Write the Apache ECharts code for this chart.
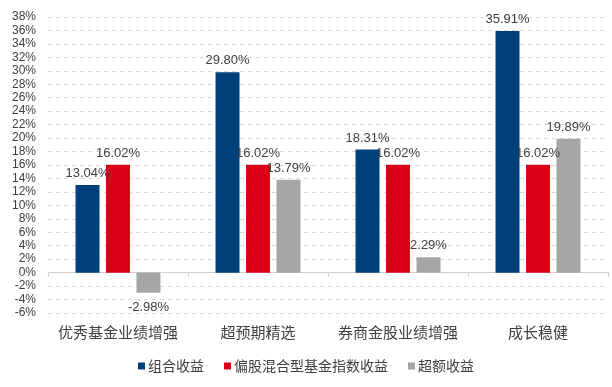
<!DOCTYPE html>
<html>
<head>
<meta charset="utf-8">
<script src="https://cdn.jsdelivr.net/npm/echarts@6/dist/echarts.min.js"></script>
<style>html,body{margin:0;padding:0;background:#fff;}#c{width:612px;height:387px;}</style>
</head>
<body>
<div id="c"></div>
<script>
var categories = ['优秀基金业绩增强', '超预期精选', '券商金股业绩增强', '成长稳健'];
var seriesNames = ['组合收益', '偏股混合型基金指数收益', '超额收益'];
var portfolio = [13.04, 29.80, 18.31, 35.91];
var benchmark = [16.02, 16.02, 16.02, 16.02];
var excess = [-2.98, 13.79, 2.29, 19.89];
var yMin = -6, yMax = 38, yStep = 2;

var colors = ['#00407a', '#d90017', '#a6a6a6'];

function mk(arr) {
  return arr.map(function (v) {
    if (v < 0) return { value: v, label: { position: 'bottom', distance: 8 } };
    return v;
  });
}
var labelStyle = {
  show: true, position: 'top', distance: 5,
  fontFamily: 'Liberation Sans, Arial, sans-serif', fontSize: 13, color: '#404040',
  formatter: function (p) { return p.value.toFixed(2) + '%'; }
};
var chart = echarts.init(document.getElementById('c'), null, { renderer: 'canvas' });
chart.setOption({
  animation: false,
  backgroundColor: '#fff',
  grid: { left: 48, right: 4, top: 17, bottom: 74 },
  legend: {
    bottom: 9, left: 'center',
    itemWidth: 7, itemHeight: 7, itemGap: 20,
    icon: 'rect',
    textStyle: { fontFamily: 'Noto Sans CJK SC', fontSize: 14, color: '#404040', padding: [0, 0, 0, -2] },
    data: seriesNames
  },
  xAxis: {
    type: 'category', data: categories,
    axisLine: { onZero: true, lineStyle: { color: '#d0d0d0', width: 1 } },
    axisTick: { show: true, length: 4, lineStyle: { color: '#d0d0d0' } },
    axisLabel: { interval: 0, margin: 12, fontFamily: 'Noto Sans CJK SC', fontSize: 15, color: '#404040' }
  },
  yAxis: {
    type: 'value', min: yMin, max: yMax, interval: yStep,
    axisLine: { show: false }, axisTick: { show: false },
    axisLabel: { margin: 12, fontFamily: 'Liberation Sans, Arial, sans-serif', fontSize: 12, color: '#404040',
      formatter: function (v) { return v + '%'; } },
    splitLine: { show: true, lineStyle: { color: '#d9d9d9', type: [4, 4], width: 1 } }
  },
  series: [
    { name: seriesNames[0], type: 'bar', data: mk(portfolio), barWidth: 24, barGap: '27%', itemStyle: { color: colors[0] }, label: labelStyle },
    { name: seriesNames[1], type: 'bar', data: mk(benchmark), barWidth: 24, barGap: '27%', itemStyle: { color: colors[1] }, label: labelStyle },
    { name: seriesNames[2], type: 'bar', data: mk(excess), barWidth: 24, barGap: '27%', itemStyle: { color: colors[2] }, label: labelStyle }
  ]
});
</script>
</body>
</html>
